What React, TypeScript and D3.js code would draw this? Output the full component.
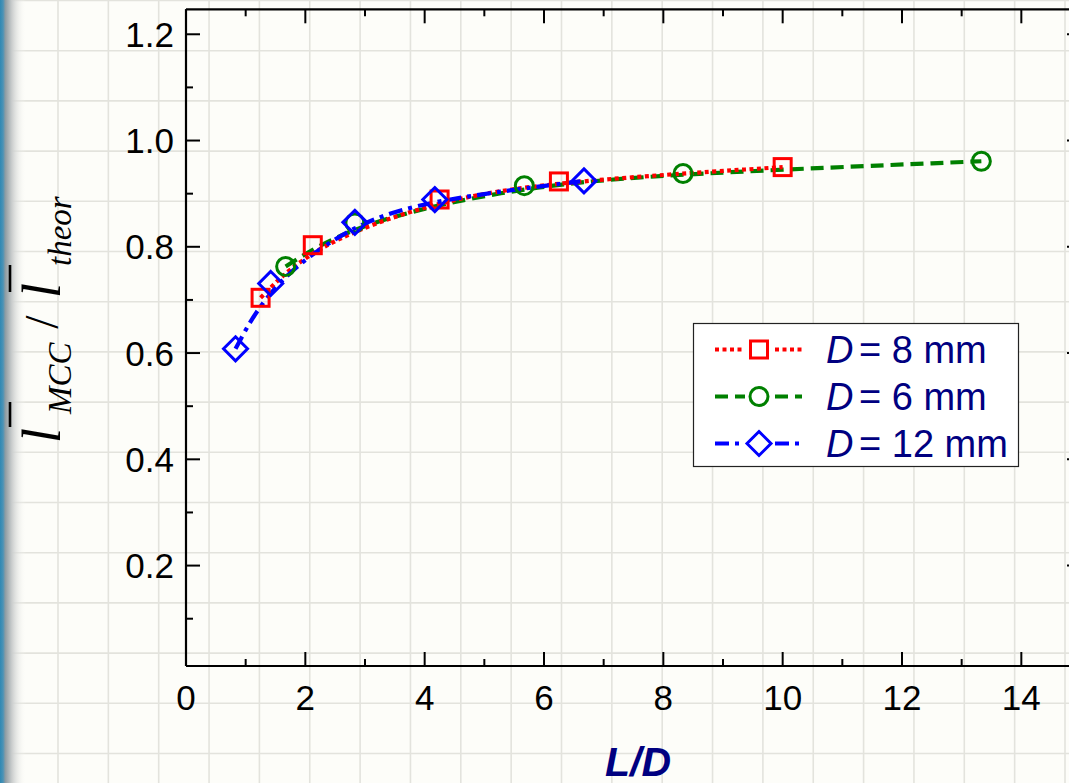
import React from "react";
import * as d3 from "d3";

// ---------- data ----------
const xTicksMajor = [0, 2, 4, 6, 8, 10, 12, 14];
const xTicksMinor = [1, 3, 5, 7, 9, 11, 13];
const yTicksMajor = [0.2, 0.4, 0.6, 0.8, 1.0, 1.2];
const yTicksMinor = [0.1, 0.3, 0.5, 0.7, 0.9, 1.1];

const ldD8 = [1.25, 2.125, 4.25, 6.25, 10];
const ratioD8 = [0.704, 0.803, 0.889, 0.923, 0.95];
const ldD6 = [1.67, 2.83, 5.67, 8.33, 13.33];
const ratioD6 = [0.763, 0.845, 0.915, 0.938, 0.961];
const ldD12 = [0.83, 1.42, 2.83, 4.17, 6.67];
const ratioD12 = [0.608, 0.731, 0.846, 0.889, 0.924];
const seriesLabels = ["8 mm", "6 mm", "12 mm"];

const W = 1069;
const H = 783;
const SANS = "'Liberation Sans', Arial, sans-serif";
const SERIF = "'Liberation Serif', 'Times New Roman', serif";
const NAVY = "#000080";

type Series = {
  xs: number[];
  ys: number[];
  color: string;
  dash: string;
  marker: "square" | "circle" | "diamond";
  label: string;
};

const series: Series[] = [
  { xs: ldD8, ys: ratioD8, color: "#ff0000", dash: "4 3.5", marker: "square", label: seriesLabels[0] },
  { xs: ldD6, ys: ratioD6, color: "#008000", dash: "13 7", marker: "circle", label: seriesLabels[1] },
  { xs: ldD12, ys: ratioD12, color: "#0000ff", dash: "14 6 4 6", marker: "diamond", label: seriesLabels[2] },
];

function Marker({ kind, cx, cy, color }: { kind: string; cx: number; cy: number; color: string }) {
  if (kind === "square")
    return <rect x={cx - 8.5} y={cy - 8.5} width={17} height={17} fill="none" stroke={color} strokeWidth={3} />;
  if (kind === "circle") return <circle cx={cx} cy={cy} r={9} fill="none" stroke={color} strokeWidth={3} />;
  const r = 12;
  return (
    <path
      d={`M${cx},${cy - r}L${cx + r},${cy}L${cx},${cy + r}L${cx - r},${cy}Z`}
      fill="none"
      stroke={color}
      strokeWidth={3}
    />
  );
}

export default function App() {
  const x = d3.scaleLinear().domain([0, 15]).range([186, 1081]);
  const y = d3.scaleLinear().domain([0.011, 1.247]).range([666, 9.3]);
  const x0 = x(0);
  const y0 = y(0.011);
  const yTop = y(1.247);
  const xRight = x(15);

  const gridV = d3.range(-1, 21).map((k) => 58 + 50.35 * k);
  const gridH = d3.range(0, 17).map((k) => 0.5 + 50.2 * k);

  const line = d3
    .line<[number, number]>()
    .x((d) => x(d[0]))
    .y((d) => y(d[1]))
    .curve(d3.curveBasis);

  const drawOrder = [1, 0, 2];

  return (
    <svg
      width={W}
      height={H}
      style={{ position: "absolute", left: 0, top: 0, background: "#fdfdf9" }}
    >
      <defs>
        <linearGradient id="edge" x1="0" x2="1" y1="0" y2="0">
          <stop offset="0" stopColor="#2f88b3" />
          <stop offset="0.12" stopColor="#4b93b6" />
          <stop offset="0.2" stopColor="#8d9ba2" />
          <stop offset="0.45" stopColor="#c9cccc" />
          <stop offset="1" stopColor="#fdfdf9" stopOpacity="0" />
        </linearGradient>
      </defs>
      <rect x={0} y={0} width={W} height={H} fill="#fdfdf9" />
      {/* graph paper */}
      {gridV.map((gx, i) => (
        <line key={"gv" + i} x1={gx} x2={gx} y1={0} y2={H} stroke="#e3e3dd" strokeWidth={1.6} />
      ))}
      {gridH.map((gy, i) => (
        <line key={"gh" + i} x1={0} x2={W} y1={gy} y2={gy} stroke="#e3e3dd" strokeWidth={1.6} />
      ))}
      <rect x={0} y={0} width={26} height={H} fill="url(#edge)" />

      {/* frame */}
      <line x1={x0} x2={xRight} y1={yTop} y2={yTop} stroke="#000" strokeWidth={2.2} />
      <line x1={xRight} x2={xRight} y1={yTop} y2={y0} stroke="#000" strokeWidth={2.2} />
      {xTicksMajor.map((t) => (
        <line key={"tt" + t} x1={x(t)} x2={x(t)} y1={yTop} y2={yTop + 14} stroke="#000" strokeWidth={2} />
      ))}
      {xTicksMinor.map((t) => (
        <line key={"ttm" + t} x1={x(t)} x2={x(t)} y1={yTop} y2={yTop + 7} stroke="#000" strokeWidth={2} />
      ))}
      {yTicksMajor.map((t) => (
        <line key={"rt" + t} x1={xRight} x2={xRight - 14} y1={y(t)} y2={y(t)} stroke="#000" strokeWidth={2} />
      ))}

      {/* axes */}
      <line x1={x0} x2={xRight} y1={y0} y2={y0} stroke="#000" strokeWidth={2.2} />
      <line x1={x0} x2={x0} y1={yTop} y2={y0} stroke="#000" strokeWidth={2.2} />
      {xTicksMajor.map((t) => (
        <g key={"xt" + t}>
          <line x1={x(t)} x2={x(t)} y1={y0} y2={y0 - 14} stroke="#000" strokeWidth={2} />
          <text x={x(t)} y={710} textAnchor="middle" fontFamily={SANS} fontSize={35} fill="#000">
            {t}
          </text>
        </g>
      ))}
      {xTicksMinor.map((t) => (
        <line key={"xm" + t} x1={x(t)} x2={x(t)} y1={y0} y2={y0 - 7} stroke="#000" strokeWidth={2} />
      ))}
      {yTicksMajor.map((t) => (
        <g key={"yt" + t}>
          <line x1={x0} x2={x0 + 14} y1={y(t)} y2={y(t)} stroke="#000" strokeWidth={2} />
          <text x={174} y={y(t) + 12.5} textAnchor="end" fontFamily={SANS} fontSize={35} fill="#000">
            {d3.format(".1f")(t)}
          </text>
        </g>
      ))}
      {yTicksMinor.map((t) => (
        <line key={"ym" + t} x1={x0} x2={x0 + 7} y1={y(t)} y2={y(t)} stroke="#000" strokeWidth={2} />
      ))}

      {/* fitted curves */}
      {drawOrder.map((i) => {
        const s = series[i];
        const pts = s.xs.map((v, j) => [v, s.ys[j]] as [number, number]);
        return (
          <path
            key={"l" + i}
            d={line(pts) || ""}
            fill="none"
            stroke={s.color}
            strokeWidth={4.2}
            strokeDasharray={s.dash}
          />
        );
      })}
      {/* markers */}
      {series.map((s, i) => (
        <g key={"m" + i}>
          {s.xs.map((v, j) => (
            <Marker key={j} kind={s.marker} cx={x(v)} cy={y(s.ys[j])} color={s.color} />
          ))}
        </g>
      ))}

      {/* legend */}
      <rect x={693.5} y={323.5} width={325} height={143} fill="#ffffff" stroke="#222" strokeWidth={1.2} />
      {series.map((s, i) => {
        const base = 363 + i * 47;
        const ly = base - 13.5;
        return (
          <g key={"lg" + i}>
            <line x1={715} x2={802} y1={ly} y2={ly} stroke={s.color} strokeWidth={4} strokeDasharray={s.dash} />
            <rect x={745} y={ly - 13} width={28} height={26} fill="#ffffff" />
            <Marker kind={s.marker} cx={759} cy={ly} color={s.color} />
            <text y={base} fontFamily={SANS} fontSize={38} fill={NAVY}>
              <tspan x={826} fontStyle="italic">D</tspan>
              <tspan x={859}>{"= " + s.label}</tspan>
            </text>
          </g>
        );
      })}

      {/* axis titles */}
      <text
        x={638}
        y={776}
        textAnchor="middle"
        fontFamily={SANS}
        fontSize={41}
        fontWeight="bold"
        fontStyle="italic"
        fill={NAVY}
      >
        L/D
      </text>
      <g transform="rotate(-90)" fontFamily={SERIF} fill="#000">
        <text x={-443} y={60} fontSize={54} fontStyle="italic">l</text>
        <line x1={-427} x2={-402} y1={10} y2={10} stroke="#000" strokeWidth={2.6} />
        <text x={-414} y={71} fontSize={33} fontStyle="italic">MCC</text>
        <text x={-322} y={58} fontSize={48} textAnchor="middle">/</text>
        <text x={-298} y={60} fontSize={54} fontStyle="italic">l</text>
        <line x1={-292} x2={-265} y1={10} y2={10} stroke="#000" strokeWidth={2.6} />
        <text x={-266} y={71} fontSize={33} fontStyle="italic">theor</text>
      </g>
    </svg>
  );
}
